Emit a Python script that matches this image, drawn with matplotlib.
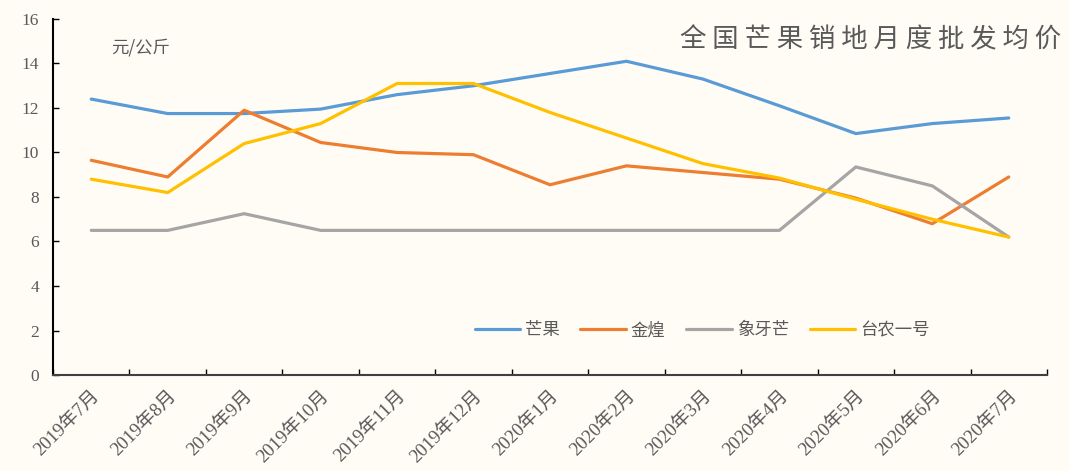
import numpy as np
import matplotlib.pyplot as plt
from matplotlib.ticker import FixedLocator, NullFormatter

plt.rcParams['font.family'] = ['Liberation Serif', 'Noto Sans CJK SC', 'DejaVu Sans']

months = ['2019年7月', '2019年8月', '2019年9月', '2019年10月', '2019年11月', '2019年12月',
          '2020年1月', '2020年2月', '2020年3月', '2020年4月', '2020年5月', '2020年6月', '2020年7月']
mango = [12.4, 11.75, 11.75, 11.95, 12.6, 13.0, 13.55, 14.1, 13.3, 12.1, 10.85, 11.3, 11.55]
jinhuang = [9.65, 8.9, 11.9, 10.45, 10.0, 9.9, 8.55, 9.4, 9.1, 8.8, 7.95, 6.8, 8.9]
xiangya = [6.5, 6.5, 7.25, 6.5, 6.5, 6.5, 6.5, 6.5, 6.5, 6.5, 9.35, 8.5, 6.2]
tainong = [8.8, 8.2, 10.4, 11.3, 13.1, 13.1, 11.8, 10.65, 9.5, 8.85, 7.9, 7.0, 6.2]
series_names = ['芒果', '金煌', '象牙芒', '台农一号']
colors = ['#5B9BD5', '#ED7D31', '#A5A5A5', '#FFC000']

bg = '#FFFCF6'
fig = plt.figure(figsize=(10.69, 4.71), dpi=100, facecolor=bg)
ax = fig.add_axes([0.0496, 0.2038, 0.9298, 0.7559], facecolor=bg)

x = np.arange(len(months))
for vals, name, c in zip([mango, jinhuang, xiangya, tainong], series_names, colors):
    ax.plot(x, vals, color=c, lw=2.3, label=name, solid_capstyle='round')

ax.set_xlim(-0.5, len(months) - 0.5)
ax.set_ylim(0, 16)
ax.set_yticks(np.arange(0, 17, 2))
ax.tick_params(axis='y', direction='in', length=4, width=1, colors='black',
               labelcolor='#595959', labelsize=12.5, pad=10)

# category boundaries as tick marks, labels centred on categories
ax.xaxis.set_major_locator(FixedLocator(np.arange(-0.5, len(months), 1.0)))
ax.xaxis.set_major_formatter(NullFormatter())
ax.xaxis.set_minor_locator(FixedLocator(x))
ax.set_xticklabels(months, minor=True, rotation=45, ha='right', rotation_mode='anchor',
                   family=['Liberation Serif', 'Noto Sans CJK SC'])
ax.tick_params(axis='x', which='major', direction='in', length=4, width=1, colors='black')
ax.tick_params(axis='x', which='minor', length=0, labelcolor='#595959', labelsize=13.5, pad=9)

for s in ['top', 'right']:
    ax.spines[s].set_visible(False)
ax.spines['left'].set_color('black')
ax.spines['bottom'].set_color('#404040')
ax.spines['left'].set_linewidth(1.5)
ax.spines['bottom'].set_linewidth(1.5)

ax.text(0.058, 0.905, '元/公斤', transform=ax.transAxes, fontsize=12.5, color='#595959',
        family=['Noto Sans CJK SC', 'DejaVu Sans'])
fig.text(0.993, 0.915, ' '.join('全国芒果销地月度批发均价'), ha='right', va='center',
         fontsize=19, color='#595959', family=['Noto Sans CJK SC', 'DejaVu Sans'])

leg = ax.legend(loc='center', bbox_to_anchor=(0.653, 0.126), ncol=4, frameon=False,
                handlelength=2.6, handletextpad=0.3, columnspacing=1.2,
                prop={'family': ['Noto Sans CJK SC', 'DejaVu Sans'], 'size': 12.5})
for t in leg.get_texts():
    t.set_color('#595959')

fig.savefig('out.png', dpi=100, facecolor=bg)
